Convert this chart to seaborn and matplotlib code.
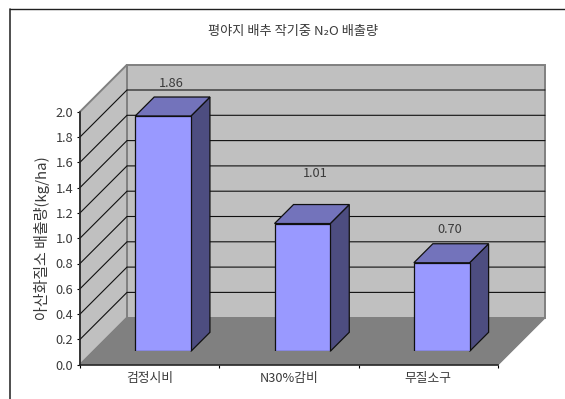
import matplotlib
matplotlib.use("Agg")
import matplotlib.pyplot as plt
from matplotlib.lines import Line2D
import seaborn as sns

# Emission data
categories = ["검정시비", "N30%감비", "무질소구"]
emissions = [1.86, 1.01, 0.70]
y_ticks = [0.0, 0.2, 0.4, 0.6, 0.8, 1.0, 1.2, 1.4, 1.6, 1.8, 2.0]
chart_title = "평야지 배추 작기중 N₂O 배출량"
y_title = "아산화질소 배출량(kg/ha)"

# Offset (px) of each value label from the top of its column
label_nudge = [-1, 3, -1]
label_lift = [14, 31, 14]

W, H = 565, 399
WALL_DEPTH = 47   # px, oblique offset of the back wall
BAR_SHIFT = 13.4  # px, how far the columns sit behind the axis plane
BAR_DEPTH = 19    # px, oblique depth of a column
TEXT = "#3a3a3a"

sns.set_theme(style="white")
plt.rcParams["font.family"] = ["Noto Sans CJK KR", "DejaVu Sans"]
plt.rcParams["axes.unicode_minus"] = False

fig = plt.figure(figsize=(W / 100, H / 100), dpi=100, facecolor="white")


def rect(x0, x1, y_top, y_bottom):
    return [x0 / W, 1 - y_bottom / H, (x1 - x0) / W, (y_bottom - y_top) / H]


# Axis plane and chart frame
ax = fig.add_axes(rect(80, 498, 111.7, 364.7), facecolor="none")
ax.set_xlim(-0.5, 2.5)
ax.set_ylim(0, 2)
xlo, xhi = ax.get_xlim()
ylo, yhi = ax.get_ylim()
px_x = (xhi - xlo) / 418
px_y = (yhi - ylo) / 253
dx, dy = WALL_DEPTH * px_x, WALL_DEPTH * px_y

# Back wall, side wall and floor of the 3D box
GREY_EDGE = "#808080"
ax.fill([xlo + dx, xhi + dx, xhi + dx, xlo + dx], [ylo + dy, ylo + dy, yhi + dy, yhi + dy],
        fc="#c0c0c0", ec=GREY_EDGE, lw=1.4, clip_on=False, zorder=1)
ax.fill([xlo, xlo + dx, xlo + dx, xlo], [ylo, ylo + dy, yhi + dy, yhi],
        fc="#c0c0c0", ec=GREY_EDGE, lw=1.4, clip_on=False, zorder=1)
ax.fill([xlo, xhi, xhi + dx, xlo + dx], [ylo, ylo, ylo + dy, ylo + dy],
        fc="#808080", ec=GREY_EDGE, lw=1.0, clip_on=False, zorder=1.1)

# Gridlines run along the side wall and across the back wall
for t in y_ticks[1:-1]:
    ax.plot([xlo, xlo + dx, xhi + dx], [t, t + dy, t + dy], color="#101010", lw=0.8,
            clip_on=False, zorder=1.2, solid_joinstyle="miter")

ax.set_yticks(y_ticks)
ax.set_yticklabels([f"{t:.1f}" for t in y_ticks], fontsize=9.2, color=TEXT)
ax.set_xticks(range(len(categories)))
ax.set_xticklabels(categories, fontsize=9.2, color=TEXT)
ax.set_xticks([xlo, 0.5, 1.5, xhi], minor=True)
ax.tick_params(axis="x", which="major", length=0, pad=5.5)
ax.tick_params(axis="x", which="minor", length=2.4, width=0.8, color="black", bottom=True, direction="out")
ax.tick_params(axis="y", length=2.2, width=0.8, color="black", left=True, direction="out", pad=2.5)
ax.set_ylabel(y_title, fontsize=10.8, color=TEXT, labelpad=4.5)
for name, spine in ax.spines.items():
    spine.set_visible(name in ("left", "bottom"))
    spine.set_color("#202020")
    spine.set_linewidth(1.1)
    spine.set_zorder(3)

# Columns sit on their own plane, shifted into the box
bar_ax = fig.add_axes(rect(80 + BAR_SHIFT, 498 + BAR_SHIFT, 111.7 - BAR_SHIFT, 364.7 - BAR_SHIFT),
                      facecolor="none")
sns.barplot(x=categories, y=emissions, ax=bar_ax, width=0.4, color="#9999ff", saturation=1,
            edgecolor="#101010", linewidth=0.9, zorder=4)
bar_ax.set_xlim(xlo, xhi)
bar_ax.set_ylim(ylo, yhi)
bar_ax.axis("off")

bx, by = BAR_DEPTH * px_x, BAR_DEPTH * px_y
for bar, value, nudge, lift in zip(bar_ax.patches, emissions, label_nudge, label_lift):
    x0, x1 = bar.get_x(), bar.get_x() + bar.get_width()
    bar_ax.fill([x1, x1 + bx, x1 + bx, x1], [0, by, value + by, value],
                fc="#4d4d80", ec="#101010", lw=0.9, clip_on=False, zorder=3)
    bar_ax.fill([x0, x1, x1 + bx, x0 + bx], [value, value, value + by, value + by],
                fc="#7373bb", ec="#101010", lw=0.9, clip_on=False, zorder=3)
    bar_ax.annotate(f"{value:.2f}", xy=((x0 + x1 + bx) / 2, value + by),
                    xytext=(nudge * 0.72, lift * 0.72),
                    textcoords="offset points", ha="center", va="center",
                    fontsize=9.2, color=TEXT, annotation_clip=False)

fig.text(293 / W, 1 - 32 / H, chart_title, ha="center", va="center", fontsize=9.5, color=TEXT)

# Chart area border: only the top and left edges fall inside the image
fig.add_artist(Line2D([10 / W, 10 / W], [0, 1 - 9 / H], color="#303030", lw=1.2))
fig.add_artist(Line2D([10 / W, 1], [1 - 9 / H, 1 - 9 / H], color="#202020", lw=1.0))

fig.savefig("out.png", dpi=100, facecolor="white")
